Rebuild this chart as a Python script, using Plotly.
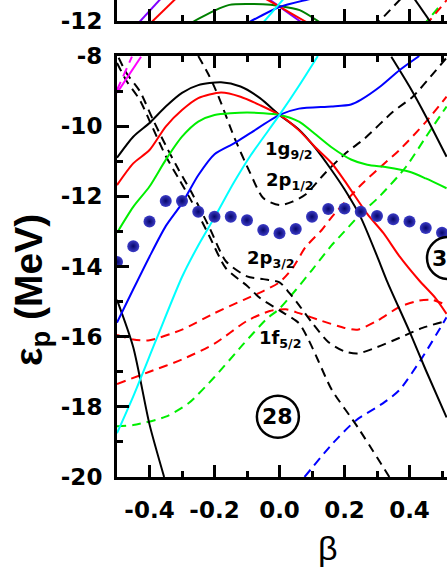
import plotly.graph_objects as go

# proton Nilsson levels: beta vs energy (MeV)

# lower panel, solid lines (1g9/2 family and neighbours)
g_black_beta = [-0.5, -0.45, -0.4, -0.35, -0.3, -0.25, -0.18, -0.12, -0.06, 0.0, 0.06, 0.11, 0.16, 0.2, 0.25, 0.3, 0.33, 0.4, 0.45, 0.514]
g_black_e = [-10.9, -10.3, -9.91, -9.44, -9.05, -8.83, -8.75, -8.87, -9.2, -9.68, -10.1, -10.62, -11.25, -11.8, -12.6, -13.7, -14.4, -15.85, -16.95, -18.3]

g_red_beta = [-0.5, -0.45, -0.4, -0.35, -0.3, -0.25, -0.18, -0.12, -0.06, 0.0, 0.06, 0.11, 0.16, 0.2, 0.27, 0.32, 0.37, 0.43, 0.48, 0.514]
g_red_e = [-11.68, -11.06, -10.68, -10.01, -9.54, -9.2, -9.04, -9.16, -9.4, -9.68, -10.12, -10.6, -11.05, -11.55, -12.5, -13.05, -13.72, -14.4, -14.9, -15.35]

g_green_beta = [-0.5, -0.45, -0.4, -0.35, -0.3, -0.25, -0.2, -0.1, 0.0, 0.06, 0.1, 0.16, 0.22, 0.27, 0.33, 0.4, 0.45, 0.514]
g_green_e = [-13.04, -12.3, -11.72, -10.96, -10.3, -9.87, -9.68, -9.61, -9.68, -9.87, -10.15, -10.6, -10.95, -11.1, -11.17, -11.3, -11.49, -11.77]

g_blue_beta = [-0.5, -0.45, -0.4, -0.35, -0.3, -0.25, -0.2, -0.14, -0.09, 0.0, 0.06, 0.16, 0.22, 0.25, 0.31, 0.37, 0.43]
g_blue_e = [-15.6, -14.65, -13.72, -12.85, -12.2, -11.4, -10.8, -10.49, -10.2, -9.68, -9.5, -9.44, -9.38, -9.25, -8.87, -8.4, -8.0]

g_cyan_beta = [-0.5, -0.45, -0.38, -0.3, -0.25, -0.2, -0.14, -0.09, 0.0, 0.06, 0.118]
g_cyan_e = [-18.75, -17.7, -16.1, -14.3, -13.4, -12.6, -11.6, -10.85, -9.68, -8.85, -8.0]

steep_black_beta = [-0.5, -0.45, -0.4, -0.355]
steep_black_e = [-14.95, -16.3, -18.5, -20.0]

corner_black_beta = [0.344, 0.4, 0.451, 0.514]
corner_black_e = [-8.02, -8.87, -9.73, -10.87]

magenta_beta = [-0.5, -0.426]
magenta_e = [-9.05, -8.02]
magenta_dash_beta = [-0.5, -0.454]
magenta_dash_e = [-8.97, -8.02]

# lower panel, dashed lines
p12_beta = [-0.25, -0.22, -0.19, -0.14, -0.09, -0.05, 0.0, 0.04, 0.08, 0.14, 0.2, 0.262, 0.349, 0.41, 0.482, 0.514]
p12_e = [-8.0, -8.5, -9.1, -10.3, -11.34, -12.05, -12.25, -12.15, -11.95, -11.34, -10.8, -10.35, -9.59, -9.16, -8.4, -8.05]

pair_up_beta = [-0.495, -0.47, -0.43, -0.39, -0.35, -0.31, -0.27, -0.215, -0.165, -0.1, -0.05, 0.0, 0.03, 0.06, 0.1, 0.15, 0.2, 0.24, 0.3, 0.37, 0.44, 0.514]
pair_up_e = [-8.05, -8.5, -9.0, -9.8, -10.55, -11.25, -11.9, -12.9, -13.85, -14.28, -14.36, -14.45, -14.75, -15.1, -15.6, -16.15, -16.42, -16.48, -16.3, -16.03, -15.75, -15.55]

pair_lo_beta = [-0.5, -0.47, -0.43, -0.39, -0.35, -0.31, -0.27, -0.215, -0.165, -0.1, -0.06, 0.0, 0.06, 0.09, 0.12, 0.16, 0.24, 0.338]
pair_lo_e = [-8.2, -8.72, -9.25, -10.05, -10.85, -11.5, -12.15, -13.15, -14.05, -14.55, -14.9, -15.25, -15.62, -16.1, -16.7, -17.5, -18.57, -20.0]

red_a_beta = [-0.5, -0.45, -0.4, -0.3, -0.2, -0.11, -0.05, 0.0, 0.04, 0.08, 0.13, 0.16, 0.246, 0.3, 0.369, 0.451, 0.514]
red_a_e = [-15.95, -16.08, -16.1, -15.8, -15.33, -14.95, -14.7, -14.45, -14.05, -13.45, -12.96, -12.6, -11.72, -11.25, -10.68, -9.87, -9.16]

red_b_beta = [-0.5, -0.4, -0.3, -0.2, -0.1, -0.03, 0.02, 0.06, 0.13, 0.2, 0.24, 0.3, 0.37, 0.43, 0.47, 0.514]
red_b_e = [-17.35, -17.0, -16.65, -16.2, -15.55, -15.27, -15.22, -15.33, -15.55, -15.75, -15.8, -15.55, -15.15, -14.97, -14.95, -15.1]

green_a_beta = [-0.5, -0.45, -0.35, -0.28, -0.2, -0.11, -0.04, 0.0, 0.05, 0.1, 0.16, 0.2, 0.25, 0.308, 0.39, 0.451, 0.514]
green_a_e = [-18.55, -18.52, -18.28, -17.9, -17.15, -16.2, -15.5, -15.2, -14.67, -14.1, -13.4, -13.0, -12.5, -12.0, -11.15, -10.3, -9.44]

blue_dash_beta = [0.077, 0.164, 0.236, 0.318, 0.369, 0.441, 0.503, 0.514]
blue_dash_e = [-20.0, -19.04, -18.38, -17.9, -17.52, -16.57, -15.62, -15.45]

# blue spheres (Fermi level)
dot_beta = [-0.5, -0.45, -0.4, -0.35, -0.3, -0.25, -0.2, -0.15, -0.1, -0.05, 0.0,
            0.05, 0.1, 0.15, 0.2, 0.25, 0.3, 0.35, 0.4, 0.45, 0.5]
dot_e = [-13.87, -13.42, -12.72, -12.13, -12.13, -12.44, -12.58, -12.58, -12.68, -12.96, -13.05,
         -12.93, -12.58, -12.36, -12.35, -12.44, -12.56, -12.65, -12.72, -12.9, -13.04]

# upper panel (only its bottom strip is in the picture)
t_violet1_beta = [-0.445, -0.36]
t_violet1_e = [-12.17, -11.31]
t_red1_beta = [-0.4, -0.31]
t_red1_e = [-12.09, -11.28]
t_dgreen_beta = [-0.28, -0.262, -0.185, -0.154, -0.051, 0.0, 0.062, 0.118, 0.13]
t_dgreen_e = [-12.12, -12.0, -11.64, -11.54, -11.52, -11.57, -11.69, -12.0, -12.08]
t_blue_beta = [-0.1, -0.087, 0.0, 0.082, 0.1]
t_blue_e = [-12.07, -12.0, -11.6, -11.4, -11.36]
t_cyan_beta = [-0.06, 0.02]
t_cyan_e = [-12.15, -11.29]
t_red2_beta = [-0.05, 0.0, 0.077, 0.09]
t_red2_e = [-11.33, -11.59, -12.0, -12.07]
t_violet2_beta = [-0.04, 0.0, 0.062, 0.08]
t_violet2_e = [-11.33, -11.59, -12.0, -12.12]
t_bdash_beta = [0.29, 0.38]
t_bdash_e = [-12.18, -11.3]
t_bsolid_beta = [0.41, 0.47]
t_bsolid_e = [-11.3, -12.1]
t_rdash_beta = [0.45, 0.515]
t_rdash_e = [-12.12, -11.4]
t_gdash_beta = [0.44, 0.5]
t_gdash_e = [-12.15, -11.5]

x_ticks = [-0.4, -0.2, 0.0, 0.2, 0.4]
x_ticklabels = ["-0.4", "-0.2", "0.0", "0.2", "0.4"]
y_ticks = [-20, -18, -16, -14, -12, -10, -8]
y_ticklabels = ["-20", "-18", "-16", "-14", "-12", "-10", "-8"]

# level labels: text, beta, energy
level_labels = [("1g<sub>9/2</sub>", 0.028, -10.68),
                ("2p<sub>1/2</sub>", 0.031, -11.56),
                ("2p<sub>3/2</sub>", -0.025, -13.79),
                ("1f<sub>5/2</sub>", 0.003, -16.07)]

W, H = 447, 578
L = 117                 # left edge of plotting area (px)
PANEL_TOP, PANEL_BOT = 56, 477
STRIP_BOT = 21          # bottom of the upper panel (px)
PX_PER_MEV = (PANEL_BOT - PANEL_TOP) / 12.0
X_LEFT, PX_PER_BETA = -0.5, 325.0
X_RIGHT = X_LEFT + (W - L) / PX_PER_BETA

DASH = "9px,6px"
fig = go.Figure()


def curve(beta, e, color, dash="solid", top=False):
    fig.add_trace(go.Scatter(
        x=beta, y=e, mode="lines",
        line=dict(color=color, width=2, dash=dash, shape="spline", smoothing=0.7),
        xaxis="x2" if top else "x", yaxis="y2" if top else "y",
        hoverinfo="skip"))


def px_x(p):
    return (p - L) / (W - L)


def px_y(p):
    return (H - p) / H


# dashed first, solid on top
curve(blue_dash_beta, blue_dash_e, "#0000ff", DASH)
curve(green_a_beta, green_a_e, "#00ee00", DASH)
curve(red_b_beta, red_b_e, "#ff0000", DASH)
curve(red_a_beta, red_a_e, "#ff0000", DASH)
curve(pair_lo_beta, pair_lo_e, "black", DASH)
curve(pair_up_beta, pair_up_e, "black", DASH)
curve(p12_beta, p12_e, "black", DASH)
curve(magenta_dash_beta, magenta_dash_e, "#ff00ff", DASH)

curve(steep_black_beta, steep_black_e, "black")
curve(corner_black_beta, corner_black_e, "black")
curve(g_black_beta, g_black_e, "black")
curve(g_red_beta, g_red_e, "#ff0000")
curve(g_green_beta, g_green_e, "#00ee00")
curve(g_blue_beta, g_blue_e, "#0000ff")
curve(g_cyan_beta, g_cyan_e, "#00ffff")
curve(magenta_beta, magenta_e, "#ff00ff")

curve(t_bdash_beta, t_bdash_e, "black", DASH, top=True)
curve(t_gdash_beta, t_gdash_e, "#00ee00", DASH, top=True)
curve(t_rdash_beta, t_rdash_e, "#ff0000", DASH, top=True)
curve(t_bsolid_beta, t_bsolid_e, "black", top=True)
curve(t_dgreen_beta, t_dgreen_e, "#008000", top=True)
curve(t_violet1_beta, t_violet1_e, "#8000ff", top=True)
curve(t_red1_beta, t_red1_e, "#ff0000", top=True)
curve(t_violet2_beta, t_violet2_e, "#8000ff", top=True)
curve(t_red2_beta, t_red2_e, "#ff0000", top=True)
curve(t_blue_beta, t_blue_e, "#0000ff", top=True)
curve(t_cyan_beta, t_cyan_e, "#00ffff", top=True)

fig.add_trace(go.Scatter(
    x=dot_beta, y=dot_e, mode="markers", hoverinfo="skip",
    marker=dict(size=12, color="#3c3cc8", line=dict(width=0),
                gradient=dict(type="radial", color="#06066a"))))

tick_font = dict(family="DejaVu Sans", size=23, color="black", weight="bold")
base_axis = dict(showgrid=False, zeroline=False, showline=True, linecolor="black",
                 linewidth=3, ticks="inside", ticklen=12, tickwidth=3, tickcolor="black",
                 tickfont=tick_font, automargin=False)
minor_x = dict(ticks="inside", ticklen=6, tickwidth=3, tickcolor="black",
               tickmode="linear", tick0=-0.5, dtick=0.1)
minor_y = dict(ticks="inside", ticklen=6, tickwidth=3, tickcolor="black",
               tickmode="linear", tick0=-21, dtick=2)

fig.update_layout(
    width=W, height=H, margin=dict(l=L, r=0, t=0, b=0, pad=0), autosize=False,
    paper_bgcolor="white", plot_bgcolor="white", showlegend=False,
    xaxis=dict(base_axis, domain=[0, 1], range=[X_LEFT, X_RIGHT], anchor="y",
               tickmode="array", tickvals=x_ticks, ticktext=x_ticklabels,
               mirror="ticks", minor=minor_x, ticklabelstandoff=10),
    yaxis=dict(base_axis, domain=[px_y(PANEL_BOT), px_y(PANEL_TOP)],
               range=[-20, -8], anchor="x", tickmode="array",
               tickvals=y_ticks, ticktext=y_ticklabels, minor=minor_y,
               ticklabelstandoff=7),
    xaxis2=dict(base_axis, domain=[0, 1], range=[X_LEFT, X_RIGHT], anchor="y2",
                tickmode="array", tickvals=x_ticks, showticklabels=False,
                minor=minor_x),
    yaxis2=dict(base_axis, domain=[px_y(STRIP_BOT), 1],
                range=[-12, -12 + STRIP_BOT / PX_PER_MEV], anchor="x2",
                tickmode="array", tickvals=[-12], ticktext=["-12"], ticks="",
                ticklabelstandoff=7),
)

for text, b, e in level_labels:
    fig.add_annotation(x=b, y=e, xref="x", yref="y", text="<b>" + text + "</b>",
                       xanchor="center", yanchor="middle", showarrow=False,
                       font=dict(family="DejaVu Sans", size=18, color="black"))

# circled shell-gap numbers
fig.add_shape(type="circle", xref="x", yref="y", xsizemode="pixel", ysizemode="pixel",
              xanchor=-0.005, yanchor=-18.28, x0=-21, x1=21, y0=-21, y1=21,
              line=dict(color="black", width=2.5))
fig.add_annotation(x=-0.005, y=-18.28, xref="x", yref="y", text="<b>28</b>", showarrow=False,
                   xanchor="center", yanchor="middle",
                   font=dict(family="DejaVu Sans", size=22, color="black"))
fig.add_shape(type="circle", xref="paper", yref="paper", xsizemode="pixel", ysizemode="pixel",
              xanchor=px_x(448), yanchor=px_y(258), x0=-21, x1=21, y0=-21, y1=21,
              line=dict(color="black", width=2.5))
fig.add_annotation(x=px_x(448), y=px_y(258), xref="paper", yref="paper", text="<b>32</b>",
                   xanchor="center", yanchor="middle", showarrow=False,
                   font=dict(family="DejaVu Sans", size=22, color="black"))

# axis titles
fig.add_annotation(x=px_x(31), y=px_y(290), xref="paper", yref="paper",
                   text="<b>ε<sub>p</sub> (MeV)</b>", textangle=-90, showarrow=False,
                   xanchor="center", yanchor="middle",
                   font=dict(family="Liberation Sans", size=39, color="black"))
fig.add_annotation(x=px_x(328), y=px_y(548), xref="paper", yref="paper",
                   text="β", showarrow=False, xanchor="center", yanchor="middle",
                   font=dict(family="Liberation Sans", size=34, color="black"))

fig.write_html("out.html", config={"displayModeBar": False},
               post_script="document.body.style.margin='0';")
